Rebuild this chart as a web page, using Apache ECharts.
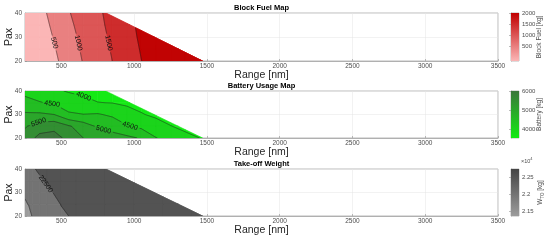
<!DOCTYPE html>
<html>
<head>
<meta charset="utf-8">
<script src="https://cdn.jsdelivr.net/npm/echarts@6/dist/echarts.min.js"></script>
<style>
html, body { margin: 0; padding: 0; background: #fff; }
#main { width: 550px; height: 243px; }
</style>
</head>
<body>
<div id="main"></div>
<script>
'use strict';

var FONT = '"Liberation Sans", Arial, sans-serif';

// grid of the maps: pax rows (20 -> 40)
var paxGrid = [20, 25, 30, 35, 40];

// flight envelope: max range at 20 pax and at 40 pax
var edgePax = [20, 40];
var edgeRange = [1470, 805];

/**
 * Block fuel [kg]
 */
var fuelRange = [250, 350, 450, 550, 650, 750, 850, 950, 1050, 1150, 1250, 1350, 1450, 1550];
var fuelKg = [
	[-150, 128, 406, 712, 1024, 1262, 1500, 1748, 1995, 2240, 2480, 2720, 2960, 3200], // 20 pax
	[-100, 182, 463, 777, 1070, 1304, 1540, 1787, 2035, 2280, 2520, 2760, 3000, 3240], // 25 pax
	[-50, 238, 528, 843, 1115, 1344, 1580, 1828, 2075, 2320, 2560, 2800, 3040, 3280], // 30 pax
	[0, 294, 594, 909, 1160, 1385, 1622, 1871, 2100, 2340, 2580, 2820, 3060, 3300], // 35 pax
	[50, 352, 659, 972, 1201, 1423, 1647, 1873, 2100, 2340, 2580, 2820, 3060, 3300] // 40 pax
];
var fuelLevels = [500, 1000, 1500, 2000];
var fuelTicks = [500, 1000, 1500, 2000];
var fuelScale = [-150, 2030];

/**
 * Battery [kg]
 */
var batteryRange = [250, 350, 450, 550, 650, 750, 850, 950, 1050, 1150, 1250, 1350, 1450, 1550];
var batteryKg = [
	[5700, 6150, 6200, 5850, 5500, 5350, 5200, 5115, 4950, 4520, 4300, 4080, 4000, 3950],
	[5450, 5750, 5850, 5560, 5250, 4930, 4800, 4550, 4380, 4130, 4010, 3930, 3850, 3800],
	[5080, 5080, 5000, 4560, 4510, 4540, 4420, 4100, 4020, 3940, 3870, 3800, 3750, 3700],
	[4620, 4530, 4430, 4280, 4130, 4010, 3990, 3960, 3900, 3820, 3760, 3720, 3680, 3650],
	[4400, 4250, 4080, 3960, 3900, 3850, 3800, 3770, 3740, 3710, 3680, 3650, 3620, 3600]
];
var batteryLevels = [4000, 4500, 5000, 5500, 6000];
var batteryTicks = [4000, 5000, 6000];
var batteryScale = [3530, 6020];

/**
 * Take-off weight [kg]
 */
var towRange = [250, 275, 300, 350, 400, 500, 600, 800, 1000, 1200, 1400, 1600];
var towKg = [
	[21350, 21700, 22040, 22220, 22320, 22450, 22550, 22640, 22690, 22715, 22735, 22750],
	[21900, 22030, 22130, 22260, 22360, 22510, 22590, 22660, 22695, 22715, 22730, 22745],
	[22120, 22200, 22260, 22360, 22450, 22570, 22620, 22670, 22700, 22720, 22735, 22750],
	[22280, 22330, 22370, 22460, 22535, 22600, 22640, 22680, 22705, 22725, 22740, 22755],
	[22380, 22430, 22470, 22540, 22580, 22620, 22650, 22690, 22710, 22730, 22745, 22760]
];
var towLevels = [22000, 22500];
var towTicks = [21500, 22000, 22500];
var towScale = [21350, 22740];

var maps = [{
	title: 'Block Fuel Map',
	range: fuelRange, z: fuelKg, levels: fuelLevels, ticks: fuelTicks, scale: fuelScale,
	colors: ['#fbb6b6', '#c00000'],
	unit: 'Block Fuel [kg]',
	labels: [{ level: 500, pax: 27.5 }, { level: 1000, pax: 27.5 }, { level: 1500, pax: 27.5 }]
}, {
	title: 'Battery Usage Map',
	range: batteryRange, z: batteryKg, levels: batteryLevels, ticks: batteryTicks, scale: batteryScale,
	colors: ['#14ea14', '#3b763b'],
	unit: 'Battery [kg]',
	labels: [{ level: 4000, range: 653 }, { level: 4500, range: 436 }, { level: 5500, range: 344 },
		{ level: 5000, range: 790 }, { level: 4500, range: 972 }]
}, {
	title: 'Take-off Weight',
	range: towRange, z: towKg, levels: towLevels, ticks: towTicks, scale: towScale,
	colors: ['#9c9c9c', '#444444'],
	unit: '{a|W}{s|TO}{a| [kg]}',
	labels: [{ level: 22500, pax: 33.6 }]
}];

var plotTop = [13, 91, 169];
var plotHeight = [48, 47, 47];

function hex(c) {
	return [parseInt(c.substr(1, 2), 16), parseInt(c.substr(3, 2), 16), parseInt(c.substr(5, 2), 16)];
}

function colorAt(m, v) {
	var t = (v - m.scale[0]) / (m.scale[1] - m.scale[0]);
	t = Math.max(0, Math.min(1, t));
	var a = hex(m.colors[0]), b = hex(m.colors[1]);
	return 'rgb(' + [0, 1, 2].map(function(k) {
		return Math.round(a[k] + (b[k] - a[k]) * t);
	}).join(',') + ')';
}

function rMax(p) {
	return edgeRange[0] + (edgeRange[1] - edgeRange[0]) * (p - edgePax[0]) / (edgePax[1] - edgePax[0]);
}

function side(pt) {
	return pt[0] - rMax(pt[1]);
}

function clipPoly(poly) {
	var out = [];
	for(var k = 0; k < poly.length; k++) {
		var a = poly[k], b = poly[(k + 1) % poly.length];
		var fa = side(a), fb = side(b);
		if(fa <= 0) out.push(a);
		if((fa <= 0) !== (fb <= 0)) {
			var f = fa / (fa - fb);
			out.push([a[0] + f * (b[0] - a[0]), a[1] + f * (b[1] - a[1])]);
		}
	}
	return out;
}

function clipSeg(s) {
	var fa = side(s[0]), fb = side(s[1]);
	if(fa <= 0 && fb <= 0) return s;
	if(fa > 0 && fb > 0) return null;
	var f = fa / (fa - fb);
	var cut = [s[0][0] + f * (s[1][0] - s[0][0]), s[0][1] + f * (s[1][1] - s[0][1])];
	return fa <= 0 ? [s[0], cut] : [cut, s[1]];
}

function cellCorners(m, i, j) {
	var R = m.range, P = paxGrid, Z = m.z;
	return [
		[R[i], P[j], Z[j][i]],
		[R[i + 1], P[j], Z[j][i + 1]],
		[R[i + 1], P[j + 1], Z[j + 1][i + 1]],
		[R[i], P[j + 1], Z[j + 1][i]]
	];
}

function superLevel(c, t) {
	var out = [];
	for(var k = 0; k < 4; k++) {
		var a = c[k], b = c[(k + 1) % 4];
		var ia = a[2] >= t, ib = b[2] >= t;
		if(ia) out.push([a[0], a[1]]);
		if(ia !== ib) {
			var f = (t - a[2]) / (b[2] - a[2]);
			out.push([a[0] + f * (b[0] - a[0]), a[1] + f * (b[1] - a[1])]);
		}
	}
	return out;
}

function isoSegs(c, t) {
	var pts = [];
	for(var k = 0; k < 4; k++) {
		var a = c[k], b = c[(k + 1) % 4];
		if((a[2] >= t) !== (b[2] >= t)) {
			var f = (t - a[2]) / (b[2] - a[2]);
			pts.push([a[0] + f * (b[0] - a[0]), a[1] + f * (b[1] - a[1])]);
		}
	}
	var segs = [];
	if(pts.length >= 2) segs.push([pts[0], pts[1]]);
	if(pts.length === 4) segs.push([pts[2], pts[3]]);
	return segs;
}

function levelSegs(m, t) {
	var segs = [];
	for(var j = 0; j < paxGrid.length - 1; j++) {
		for(var i = 0; i < m.range.length - 1; i++) {
			isoSegs(cellCorners(m, i, j), t).forEach(function(s) {
				var c = clipSeg(s);
				if(c) segs.push(c);
			});
		}
	}
	return segs;
}

function contourRenderer(m) {
	return function(params, api) {
		var children = [];
		var px = function(pt) { return api.coord(pt); };

		// filled bands, lowest first
		[-Infinity].concat(m.levels).forEach(function(t, k) {
			var color = colorAt(m, k === 0 ? m.scale[0] : t);
			for(var j = 0; j < paxGrid.length - 1; j++) {
				for(var i = 0; i < m.range.length - 1; i++) {
					var poly = clipPoly(superLevel(cellCorners(m, i, j), t));
					if(poly.length < 3) continue;
					children.push({
						type: 'polygon',
						shape: { points: poly.map(px) },
						style: { fill: color, stroke: color, lineWidth: 0.6 }
					});
				}
			}
		});

		// contour lines and labels
		m.levels.forEach(function(t) {
			var segs = levelSegs(m, t);
			var labels = [];
			m.labels.filter(function(l) { return l.level === t; }).forEach(function(l) {
				var best = null;
				segs.forEach(function(s) {
					var a = s[0], b = s[1], f;
					if(l.pax !== undefined) {
						if((a[1] - l.pax) * (b[1] - l.pax) > 0 || a[1] === b[1]) return;
						f = (l.pax - a[1]) / (b[1] - a[1]);
					} else {
						if((a[0] - l.range) * (b[0] - l.range) > 0 || a[0] === b[0]) return;
						f = (l.range - a[0]) / (b[0] - a[0]);
					}
					if(!best) best = { s: s, f: f };
				});
				if(!best) return;
				var pa = px(best.s[0]), pb = px(best.s[1]);
				var dx = pb[0] - pa[0], dy = pb[1] - pa[1];
				if(dx < 0 || (Math.abs(dx) < 1e-6 && dy < 0)) { dx = -dx; dy = -dy; }
				var text = String(t);
				labels.push({
					x: pa[0] + best.f * (pb[0] - pa[0]),
					y: pa[1] + best.f * (pb[1] - pa[1]),
					rot: -Math.atan2(dy, dx),
					text: text,
					r: text.length * 1.95 + 1.5
				});
			});

			segs.forEach(function(s) {
				var a = px(s[0]), b = px(s[1]);
				var len = Math.sqrt((b[0] - a[0]) * (b[0] - a[0]) + (b[1] - a[1]) * (b[1] - a[1]));
				var n = Math.max(1, Math.ceil(len / 0.5));
				var run = [];
				var flush = function() {
					if(run.length > 1) {
						children.push({
							type: 'polyline',
							shape: { points: run },
							style: { stroke: '#1a1a1a', lineWidth: 0.5, fill: null }
						});
					}
					run = [];
				};
				for(var k = 0; k <= n; k++) {
					var q = [a[0] + (b[0] - a[0]) * k / n, a[1] + (b[1] - a[1]) * k / n];
					var hidden = labels.some(function(l) {
						return Math.sqrt((q[0] - l.x) * (q[0] - l.x) + (q[1] - l.y) * (q[1] - l.y)) < l.r;
					});
					if(hidden) flush();
					else run.push(q);
				}
				flush();
			});

			labels.forEach(function(l) {
				children.push({
					type: 'text',
					x: l.x,
					y: l.y,
					rotation: l.rot,
					style: {
						text: l.text,
						fill: '#111',
						font: '7px ' + FONT,
						align: 'center',
						verticalAlign: 'middle'
					}
				});
			});
		});

		return { type: 'group', children: children };
	};
}

function colorbarRenderer(m) {
	return function(params, api) {
		var p0 = api.coord([0, m.scale[1]]);
		var p1 = api.coord([1, m.scale[0]]);
		return {
			type: 'rect',
			shape: { x: p0[0], y: p0[1], width: p1[0] - p0[0], height: p1[1] - p0[1] },
			style: {
				fill: {
					type: 'linear', x: 0, y: 0, x2: 0, y2: 1,
					colorStops: [{ offset: 0, color: m.colors[1] }, { offset: 1, color: m.colors[0] }]
				}
			}
		};
	};
}

var grids = [], xAxes = [], yAxes = [], series = [], graphics = [];
var boxColor = '#8f8f8f';

maps.forEach(function(m, i) {
	grids.push({
		left: 25, top: plotTop[i], width: 473, height: plotHeight[i],
		show: true, backgroundColor: '#fff', borderColor: boxColor, borderWidth: 0.6,
		outerBoundsMode: 'none', containLabel: false
	});
});
maps.forEach(function(m, i) {
	grids.push({
		left: 511, top: plotTop[i], width: 8, height: plotHeight[i],
		show: true, borderColor: boxColor, borderWidth: 0.6,
		outerBoundsMode: 'none', containLabel: false
	});
});

maps.forEach(function(m, i) {
	xAxes.push({
		gridIndex: i, type: 'value', min: 250, max: 3500, splitNumber: 7,
		name: 'Range [nm]', nameLocation: 'middle', nameGap: 9, nameMoveOverlap: false,
		nameTextStyle: { fontSize: 10.5, color: '#262626', fontFamily: FONT },
		axisLine: { lineStyle: { color: boxColor, width: 0.6 } },
		axisTick: { inside: true, length: 2, lineStyle: { color: boxColor, width: 0.6 } },
		axisLabel: {
			showMinLabel: false, fontSize: 6.5, color: '#4d4d4d', margin: 2, fontFamily: FONT,
			formatter: function(v) { return String(v); }
		},
		splitLine: { show: true, lineStyle: { color: '#e4e4e4', width: 0.5 } }
	});
	yAxes.push({
		gridIndex: i, type: 'value', min: 20, max: 40, interval: 10,
		name: 'Pax', nameLocation: 'middle', nameGap: 10, nameRotate: 90, nameMoveOverlap: false,
		nameTextStyle: { fontSize: 10.5, color: '#262626', fontFamily: FONT },
		axisLine: { lineStyle: { color: boxColor, width: 0.6 } },
		axisTick: { inside: true, length: 2, lineStyle: { color: boxColor, width: 0.6 } },
		axisLabel: { fontSize: 6.5, color: '#4d4d4d', margin: 3, fontFamily: FONT },
		splitLine: { show: true, lineStyle: { color: '#e4e4e4', width: 0.5 } }
	});
	series.push({
		type: 'custom', coordinateSystem: 'cartesian2d', xAxisIndex: i, yAxisIndex: i,
		silent: true, clip: true, data: [[250, 20]],
		renderItem: contourRenderer(m)
	});
});

maps.forEach(function(m, i) {
	xAxes.push({ gridIndex: 3 + i, type: 'value', min: 0, max: 1, show: false });
	yAxes.push({
		gridIndex: 3 + i, type: 'value', position: 'right', min: m.scale[0], max: m.scale[1],
		name: m.unit, nameLocation: 'middle', nameGap: 17, nameRotate: 90, nameMoveOverlap: false,
		nameTextStyle: {
			fontSize: 6.5, color: '#4d4d4d', fontFamily: FONT,
			rich: {
				a: { fontSize: 6.5, color: '#4d4d4d', fontFamily: FONT },
				s: { fontSize: 4.5, color: '#4d4d4d', fontFamily: FONT, padding: [4, 0, 0, 0] }
			}
		},
		axisLine: { show: true, lineStyle: { color: boxColor, width: 0.6 } },
		axisTick: { show: true, inside: true, length: 2, customValues: m.ticks, lineStyle: { color: boxColor, width: 0.6 } },
		axisLabel: {
			fontSize: 6, color: '#4d4d4d', margin: 3, fontFamily: FONT, customValues: m.ticks,
			formatter: function(v) { return i === 2 ? String(v / 10000) : String(v); }
		},
		splitLine: { show: false }
	});
	series.push({
		type: 'custom', coordinateSystem: 'cartesian2d', xAxisIndex: 3 + i, yAxisIndex: 3 + i,
		silent: true, data: [[0, m.scale[0]]],
		renderItem: colorbarRenderer(m)
	});
	graphics.push({
		type: 'text', x: 261.5, y: plotTop[i] - 1,
		style: { text: m.title, font: 'bold 7.5px ' + FONT, fill: '#000', align: 'center', verticalAlign: 'bottom' }
	});
});

graphics.push({
	type: 'text', x: 521, y: 161,
	style: {
		text: '{a|×10}{b|4}',
		rich: {
			a: { fontSize: 5.5, fill: '#4d4d4d', fontFamily: FONT },
			b: { fontSize: 4, fill: '#4d4d4d', fontFamily: FONT, padding: [0, 0, 4, 0] }
		},
		verticalAlign: 'middle'
	}
});

var myChart = echarts.init(document.getElementById('main'), null, { renderer: 'canvas' });
myChart.setOption({
	animation: false,
	backgroundColor: '#fff',
	textStyle: { fontFamily: FONT },
	grid: grids,
	xAxis: xAxes,
	yAxis: yAxes,
	series: series,
	graphic: graphics
});
</script>
</body>
</html>
